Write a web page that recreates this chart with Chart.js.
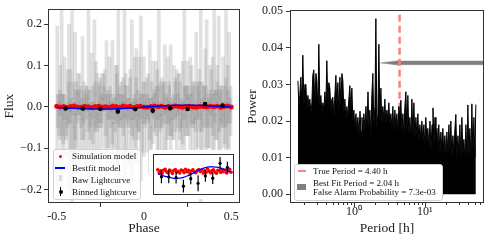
<!DOCTYPE html>
<html>
<head>
<meta charset="utf-8">
<script src="https://cdn.jsdelivr.net/npm/chart.js@4.4.1/dist/chart.umd.min.js"></script>
<style>
  body { margin: 0; background: #fff; }
  #wrap { position: relative; width: 488px; height: 242px; overflow: hidden; font-family: 'Liberation Serif', serif; color: #111; }
  canvas { position: absolute; }
  #lc { left: 0; top: 0; }
  #pg { left: 244px; top: 0; }
  #inset { left: 149px; top: 150px; }
  .legend { position: absolute; background: rgba(255,255,255,0.8); border: 1px solid #d0d0d0; border-radius: 3px; font-size: 9px; }
  .legend span { position: absolute; display: block; }
  .legend .t { white-space: nowrap; line-height: 12px; }
</style>
</head>
<body>
<div id="wrap">
  <canvas id="lc" width="244" height="242"></canvas>
  <canvas id="pg" width="244" height="242"></canvas>
  <canvas id="inset" width="89" height="49"></canvas>

  <div class="legend" style="left:53px;top:149px;width:86px;height:49px;">
    <span style="left:5px;top:4.5px;width:3px;height:3px;border-radius:50%;background:#f00;"></span>
    <span class="t" style="left:18px;top:0px;">Simulation model</span>
    <span style="left:1px;top:17px;width:10px;height:1.5px;background:#00f;"></span>
    <span class="t" style="left:18px;top:11.7px;">Bestfit model</span>
    <span style="left:5px;top:25px;width:3px;height:6px;background:#ddd;"></span>
    <span class="t" style="left:18px;top:23.7px;">Raw Lightcurve</span>
    <span style="left:6px;top:37px;width:1px;height:9px;background:#000;"></span>
    <span style="left:4.5px;top:39.5px;width:4px;height:4px;border-radius:50%;background:#000;"></span>
    <span class="t" style="left:18px;top:35.7px;">Binned lightcurve</span>
  </div>

  <div class="legend" style="left:294px;top:164px;width:147px;height:35px;background:#fff;">
    <span style="left:3px;top:4.8px;width:8px;height:2.5px;background:#ff8080;"></span>
    <span class="t" style="left:18px;top:0px;">True Period = 4.40 h</span>
    <span style="left:2px;top:19px;width:9px;height:6px;background:#808080;"></span>
    <span class="t" style="left:18px;top:12px;">Best Fit Period = 2.04 h</span>
    <span class="t" style="left:18px;top:20.7px;">False Alarm Probability = 7.3e-03</span>
  </div>
</div>

<script>
// ---- phase-folded lightcurve ----
// raw points: [phase, flux, error]
const rawLightcurve = [
  [-0.497, 0.005, 0.19], [-0.489, -0.02, 0.05], [-0.480, 0.01, 0.09], [-0.472, 0.03, 0.23],
  [-0.463, -0.03, 0.06], [-0.455, 0.00, 0.12], [-0.447, -0.04, 0.04], [-0.438, 0.02, 0.07],
  [-0.430, 0.00, 0.20], [-0.421, -0.01, 0.10], [-0.412, 0.02, 0.25], [-0.404, -0.05, 0.06],
  [-0.395, 0.01, 0.17], [-0.387, -0.02, 0.08], [-0.378, 0.03, 0.05], [-0.370, -0.03, 0.11],
  [-0.361, 0.00, 0.05], [-0.352, 0.02, 0.15], [-0.344, -0.01, 0.07], [-0.335, -0.06, 0.09],
  [-0.327, 0.01, 0.04], [-0.318, 0.02, 0.24], [-0.310, -0.02, 0.06], [-0.301, 0.00, 0.13],
  [-0.292, -0.04, 0.05], [-0.284, 0.01, 0.20], [-0.275, 0.03, 0.08], [-0.267, -0.02, 0.10],
  [-0.258, 0.00, 0.05], [-0.250, -0.05, 0.12], [-0.241, 0.02, 0.06], [-0.232, -0.01, 0.09],
  [-0.224, 0.04, 0.05], [-0.215, 0.00, 0.16], [-0.207, -0.03, 0.07], [-0.198, 0.01, 0.11],
  [-0.190, -0.01, 0.04], [-0.181, 0.01, 0.15], [-0.172, -0.04, 0.06], [-0.164, 0.02, 0.08],
  [-0.155, -0.02, 0.12], [-0.147, 0.03, 0.24], [-0.138, 0.00, 0.05], [-0.130, -0.03, 0.09],
  [-0.121, 0.01, 0.06], [-0.112, 0.05, 0.22], [-0.104, -0.02, 0.10], [-0.095, 0.00, 0.05],
  [-0.087, -0.06, 0.08], [-0.078, 0.02, 0.07], [-0.070, 0.01, 0.20], [-0.061, -0.03, 0.05],
  [-0.052, 0.01, 0.11], [-0.044, 0.00, 0.14], [-0.035, -0.02, 0.06], [-0.027, 0.03, 0.09],
  [-0.018, 0.02, 0.20], [-0.010, -0.04, 0.07], [-0.001, 0.00, 0.12], [0.008, 0.01, 0.05],
  [0.016, -0.02, 0.09], [0.025, 0.02, 0.06], [0.033, 0.00, 0.16], [0.042, -0.05, 0.07],
  [0.051, 0.01, 0.10], [0.059, -0.01, 0.05], [0.068, 0.03, 0.08], [0.076, -0.03, 0.12],
  [0.085, 0.04, 0.21], [0.093, 0.00, 0.06], [0.102, -0.02, 0.09], [0.111, 0.01, 0.05],
  [0.119, 0.00, 0.15], [0.128, -0.04, 0.07], [0.136, 0.02, 0.10], [0.145, -0.01, 0.06],
  [0.153, 0.02, 0.13], [0.162, -0.03, 0.05], [0.171, 0.01, 0.09], [0.179, 0.00, 0.06],
  [0.188, -0.02, 0.11], [0.196, 0.03, 0.05], [0.205, 0.00, 0.08], [0.213, -0.05, 0.07],
  [0.222, 0.01, 0.10], [0.231, 0.04, 0.22], [0.239, -0.01, 0.06], [0.248, 0.02, 0.09],
  [0.256, -0.02, 0.05], [0.265, 0.00, 0.12], [0.273, 0.03, 0.07], [0.282, -0.04, 0.10],
  [0.291, 0.01, 0.05], [0.299, 0.00, 0.18], [0.308, -0.02, 0.08], [0.316, 0.03, 0.06],
  [0.325, 0.01, 0.24], [0.333, -0.03, 0.09], [0.342, 0.00, 0.05], [0.351, 0.02, 0.12],
  [0.359, 0.01, 0.20], [0.368, -0.04, 0.06], [0.376, 0.00, 0.10], [0.385, 0.02, 0.07],
  [0.393, -0.01, 0.13], [0.402, 0.03, 0.23], [0.411, -0.02, 0.06], [0.419, 0.01, 0.09],
  [0.428, 0.02, 0.20], [0.436, -0.03, 0.08], [0.445, 0.00, 0.05], [0.453, 0.01, 0.11],
  [0.462, -0.02, 0.07], [0.470, 0.03, 0.22], [0.479, 0.00, 0.10], [0.488, 0.02, 0.16],
  [0.496, -0.01, 0.06],
  // low-error points that build up the dark core around zero
  [-0.494, -0.01, 0.04], [-0.481, 0.01, 0.03], [-0.469, -0.02, 0.05], [-0.456, 0.00, 0.03],
  [-0.444, -0.03, 0.04], [-0.431, 0.01, 0.05], [-0.419, -0.01, 0.03], [-0.406, 0.02, 0.04],
  [-0.394, -0.02, 0.06], [-0.381, 0.00, 0.04], [-0.369, 0.01, 0.03], [-0.356, -0.03, 0.05],
  [-0.344, 0.00, 0.04], [-0.331, 0.02, 0.03], [-0.319, -0.01, 0.05], [-0.306, -0.02, 0.03],
  [-0.294, 0.01, 0.04], [-0.281, 0.00, 0.06], [-0.269, -0.03, 0.03], [-0.256, 0.01, 0.05],
  [-0.244, -0.01, 0.04], [-0.231, 0.02, 0.03], [-0.219, -0.02, 0.05], [-0.206, 0.00, 0.03],
  [-0.194, 0.01, 0.04], [-0.181, -0.04, 0.05], [-0.169, 0.00, 0.03], [-0.156, 0.02, 0.06],
  [-0.144, -0.01, 0.04], [-0.131, 0.00, 0.03], [-0.119, -0.02, 0.05], [-0.106, 0.01, 0.04],
  [-0.094, -0.01, 0.03], [-0.081, 0.02, 0.05], [-0.069, -0.03, 0.04], [-0.056, 0.00, 0.03],
  [-0.044, 0.01, 0.06], [-0.031, -0.02, 0.04], [-0.019, 0.00, 0.03], [-0.006, 0.01, 0.05],
  [0.006, -0.01, 0.04], [0.019, 0.00, 0.03], [0.031, -0.03, 0.05], [0.044, 0.02, 0.04],
  [0.056, 0.00, 0.03], [0.069, -0.01, 0.06], [0.081, 0.01, 0.04], [0.094, -0.02, 0.03],
  [0.106, 0.00, 0.05], [0.119, 0.02, 0.04], [0.131, -0.01, 0.03], [0.144, 0.01, 0.05],
  [0.156, -0.03, 0.04], [0.169, 0.00, 0.03], [0.181, 0.02, 0.05], [0.194, -0.01, 0.04],
  [0.206, 0.00, 0.06], [0.219, -0.02, 0.03], [0.231, 0.01, 0.04], [0.244, 0.00, 0.05],
  [0.256, 0.02, 0.03], [0.269, -0.01, 0.04], [0.281, 0.00, 0.05], [0.294, -0.03, 0.03],
  [0.306, 0.01, 0.04], [0.319, 0.00, 0.06], [0.331, -0.02, 0.04], [0.344, 0.02, 0.03],
  [0.356, 0.00, 0.05], [0.369, -0.01, 0.04], [0.381, 0.01, 0.03], [0.394, -0.02, 0.05],
  [0.406, 0.00, 0.04], [0.419, 0.03, 0.03], [0.431, -0.01, 0.05], [0.444, 0.00, 0.04],
  [0.456, -0.02, 0.03], [0.469, 0.01, 0.06], [0.481, 0.00, 0.04], [0.494, -0.01, 0.03]
];

const binnedPhase = [-0.45, -0.35, -0.25, -0.15, -0.05, 0.05, 0.15, 0.25, 0.35, 0.45];
const binnedFlux = [-0.0043, -0.0043, -0.0049, -0.0117, -0.0058, -0.0094, -0.0036, -0.0054, 0.0063, 0.0031];
const binnedErr = [0.0052, 0.0051, 0.0048, 0.0051, 0.0045, 0.0063, 0.0047, 0.0047, 0.0051, 0.0045];

const simPhase = [-0.50, -0.48, -0.46, -0.44, -0.42, -0.40, -0.38, -0.36, -0.34, -0.32,
  -0.30, -0.28, -0.26, -0.24, -0.22, -0.20, -0.18, -0.16, -0.14, -0.12,
  -0.10, -0.08, -0.06, -0.04, -0.02, 0.00, 0.02, 0.04, 0.06, 0.08,
  0.10, 0.12, 0.14, 0.16, 0.18, 0.20, 0.22, 0.24, 0.26, 0.28,
  0.30, 0.32, 0.34, 0.36, 0.38, 0.40, 0.42, 0.44, 0.46, 0.48, 0.50];
const simFlux = [0.0012, -0.0009, 0.0004, -0.0015, 0.0008, 0.0016, -0.0004, -0.0012, 0.0010, 0.0002,
  -0.0017, 0.0006, 0.0014, -0.0007, 0.0001, -0.0013, 0.0011, 0.0005, -0.0010, 0.0017,
  -0.0003, 0.0009, -0.0016, 0.0003, 0.0013, -0.0006, -0.0011, 0.0007, 0.0015, -0.0002,
  0.0010, -0.0014, 0.0004, -0.0008, 0.0018, 0.0000, -0.0012, 0.0006, 0.0012, -0.0005,
  -0.0015, 0.0008, 0.0003, -0.0009, 0.0014, -0.0003, 0.0011, -0.0013, 0.0005, 0.0016, -0.0007];

const fitPhase = [-0.50, -0.45, -0.40, -0.35, -0.30, -0.25, -0.20, -0.15, -0.10, -0.05, 0.00,
  0.05, 0.10, 0.15, 0.20, 0.25, 0.30, 0.35, 0.40, 0.45, 0.50];
const fitFlux = [-0.0020, -0.0030, -0.0040, -0.0048, -0.0053, -0.0055, -0.0053, -0.0047, -0.0037, -0.0024, -0.0008,
  0.0007, 0.0020, 0.0030, 0.0035, 0.0036, 0.0034, 0.0028, 0.0018, 0.0006, -0.0006];

const phaseTicks = [-0.5, 0, 0.5];
const fluxTicks = [-0.2, -0.1, 0, 0.1, 0.2];

// ---- periodogram ----
const periods = [
  0.163, 0.168, 0.173, 0.179, 0.185, 0.191, 0.198, 0.204, 0.211, 0.218,
  0.225, 0.232, 0.240, 0.248, 0.256, 0.264, 0.273, 0.282, 0.292, 0.301,
  0.311, 0.321, 0.332, 0.343, 0.354, 0.366, 0.378, 0.390, 0.403, 0.416,
  0.430, 0.444, 0.459, 0.474, 0.490, 0.506, 0.523, 0.540, 0.558, 0.576,
  0.595, 0.615, 0.635, 0.656, 0.678, 0.700, 0.723, 0.747, 0.771, 0.797,
  0.823, 0.850, 0.878, 0.907, 0.937, 0.968, 1.00, 1.03, 1.07, 1.10,
  1.14, 1.18, 1.22, 1.26, 1.30, 1.34, 1.38, 1.43, 1.48, 1.52,
  1.58, 1.63, 1.68, 1.74, 1.79, 1.85, 1.91, 1.98, 2.04, 2.11,
  2.18, 2.25, 2.32, 2.40, 2.48, 2.56, 2.65, 2.73, 2.82, 2.92,
  3.01, 3.11, 3.21, 3.32, 3.43, 3.54, 3.66, 3.78, 3.90, 4.03,
  4.17, 4.30, 4.44, 4.59, 4.74, 4.90, 5.06, 5.23, 5.40, 5.58,
  5.76, 5.95, 6.15, 6.35, 6.56, 6.78, 7.00, 7.23, 7.47, 7.72,
  7.97, 8.23, 8.50, 8.78, 9.07, 9.37, 9.68, 10.0, 10.3, 10.7,
  11.0, 11.4, 11.8, 12.2, 12.6, 13.0, 13.4, 13.9, 14.3, 14.8,
  15.2, 15.7, 16.3, 16.8, 17.3, 17.9, 18.5, 19.1, 19.8, 20.4,
  21.1, 21.8, 22.5, 23.2, 24.0, 24.8, 25.6, 26.5, 27.3, 28.2,
  29.2, 30.1, 31.1, 32.2, 33.2, 34.3, 35.4, 36.6, 37.8, 39.1,
  40.3, 41.7, 43.0, 44.5, 45.9, 47.4, 49.0, 50.6, 52.2
];
const power = [
  0.031, 0.024, 0.027, 0.032, 0.025, 0.038, 0.024, 0.030, 0.030, 0.023,
  0.027, 0.024, 0.026, 0.022, 0.025, 0.0325, 0.034, 0.024, 0.033, 0.031,
  0.023, 0.041, 0.024, 0.027, 0.022, 0.025, 0.023, 0.028, 0.024, 0.0365,
  0.025, 0.0305, 0.029, 0.023, 0.026, 0.0265, 0.021, 0.027, 0.0325, 0.024,
  0.0305, 0.022, 0.032, 0.024, 0.033, 0.031, 0.022, 0.026, 0.020, 0.024,
  0.021, 0.026, 0.0297, 0.022, 0.029, 0.020, 0.023, 0.018, 0.022, 0.017,
  0.021, 0.016, 0.0227, 0.017, 0.021, 0.016, 0.022, 0.018, 0.024, 0.017,
  0.028, 0.018, 0.023, 0.016, 0.027, 0.033, 0.019, 0.024, 0.048, 0.018,
  0.022, 0.041, 0.020, 0.029, 0.019, 0.024, 0.020, 0.026, 0.019, 0.023,
  0.020, 0.025, 0.019, 0.022, 0.018, 0.024, 0.017, 0.023, 0.018, 0.022,
  0.017, 0.024, 0.021, 0.0257, 0.017, 0.022, 0.016, 0.024, 0.028, 0.017,
  0.027, 0.016, 0.021, 0.015, 0.026, 0.016, 0.025, 0.015, 0.021, 0.016,
  0.022, 0.014, 0.019, 0.015, 0.020, 0.014, 0.019, 0.013, 0.021, 0.014,
  0.018, 0.013, 0.020, 0.012, 0.019, 0.0236, 0.013, 0.021, 0.012, 0.018,
  0.012, 0.019, 0.011, 0.017, 0.012, 0.018, 0.011, 0.016, 0.011, 0.017,
  0.011, 0.019, 0.011, 0.020, 0.010, 0.016, 0.011, 0.018, 0.0218, 0.010,
  0.016, 0.011, 0.019, 0.010, 0.021, 0.011, 0.015, 0.010, 0.019, 0.010,
  0.0244, 0.010, 0.018, 0.010, 0.0247, 0.011, 0.021, 0.010, 0.0245
];
const periodTicks = [0.2, 0.3, 0.4, 0.5, 0.6, 0.7, 0.8, 0.9, 1, 2, 3, 4, 5, 6, 7, 8, 9, 10, 20, 30, 40, 50, 60];
const periodLabels = { 1: '10\u2070', 10: '10\u00b9' };
const powerTicks = [0, 0.01, 0.02, 0.03, 0.04, 0.05];
const truePeriod = 4.40;
// arrow: tip, head end and shaft
const arrowTip = [2.40, 0.0359];
const arrowHeadEnd = 4.5;
const arrowHeadHalf = 0.00068;
const arrowShaftHalf = 0.0005;

const tickFont = { family: 'Liberation Serif', size: 12 };
const titleFont = { family: 'Liberation Serif', size: 13.5 };

// matplotlib-like box around the plot area
const framePlugin = {
    id: 'frame',
    beforeDraw(chart, args, opts) {
        if (opts.bg) {
            chart.ctx.save();
            chart.ctx.fillStyle = opts.bg;
            chart.ctx.fillRect(0, 0, chart.width, chart.height);
            chart.ctx.restore();
        }
    },
    afterDraw(chart, args, opts) {
        const ctx = chart.ctx, a = chart.chartArea;
        ctx.save();
        ctx.strokeStyle = opts.color || '#333';
        ctx.lineWidth = 1;
        ctx.strokeRect(Math.round(a.left) + 0.5, Math.round(a.top) + 0.5,
            Math.round(a.right - a.left) - 1, Math.round(a.bottom - a.top) - 1);
        ctx.restore();
    }
};

// log axis: long major ticks, short minor ticks
const logTicksPlugin = {
    id: 'logTicks',
    afterDraw(chart) {
        const s = chart.scales.x, ctx = chart.ctx, y0 = Math.round(chart.chartArea.bottom);
        ctx.save();
        ctx.strokeStyle = '#333';
        ctx.lineWidth = 1;
        s.ticks.forEach(t => {
            const x = Math.round(s.getPixelForValue(t.value)) + 0.5;
            const len = periodLabels[t.value] ? 4 : 2;
            ctx.beginPath();
            ctx.moveTo(x, y0);
            ctx.lineTo(x, y0 + len);
            ctx.stroke();
        });
        ctx.restore();
    }
};

function errorSegments(xs, ys, es) {
    const pts = [];
    xs.forEach((x, i) => {
        pts.push({ x: x, y: ys[i] - es[i] }, { x: x, y: ys[i] + es[i] }, { x: x, y: null });
    });
    return pts;
}

const simPoints = simPhase.map((p, i) => ({ x: p, y: simFlux[i] }));
const fitPoints = fitPhase.map((p, i) => ({ x: p, y: fitFlux[i] }));
const binPoints = binnedPhase.map((p, i) => ({ x: p, y: binnedFlux[i] }));

function axisStyle(extra) {
    return Object.assign({
        border: { display: false },
        grid: { drawOnChartArea: false, drawTicks: true, tickLength: 4, tickColor: '#333' }
    }, extra);
}

// left: folded lightcurve
new Chart(document.getElementById('lc'), {
    type: 'scatter',
    data: {
        datasets: [
            { type: 'bar', data: rawLightcurve.map(r => ({ x: r[0], y: [r[1] - r[2], r[1] + r[2]] })),
              backgroundColor: 'rgba(128,128,128,0.24)', barThickness: 3, order: 6 },
            { data: rawLightcurve.map(r => ({ x: r[0], y: r[1] })),
              pointRadius: 0.8, pointBackgroundColor: 'rgba(110,110,110,0.3)', pointBorderWidth: 0, order: 5 },
            { data: simPoints, pointRadius: 2.5, pointBackgroundColor: '#ff0000', pointBorderWidth: 0, order: 4 },
            { type: 'line', data: fitPoints, borderColor: '#0000ff', borderWidth: 1.5, pointRadius: 0,
              tension: 0.4, order: 3 },
            { type: 'line', data: errorSegments(binnedPhase, binnedFlux, binnedErr), borderColor: '#000',
              borderWidth: 1.2, pointRadius: 0, spanGaps: false, order: 2 },
            { data: binPoints, pointRadius: 2.3, pointBackgroundColor: '#000', pointBorderWidth: 0, order: 1 }
        ]
    },
    options: {
        responsive: false,
        animation: false,
        layout: { padding: { left: 0, right: 1, top: 6, bottom: 0 } },
        plugins: { legend: { display: false }, tooltip: { enabled: false }, frame: { color: '#333' } },
        scales: {
            x: axisStyle({
                type: 'linear', min: -0.55, max: 0.55, offset: false,
                afterBuildTicks: s => { s.ticks = phaseTicks.map(v => ({ value: v })); },
                afterFit: s => { s.height = 39; },
                ticks: { font: tickFont, color: '#222', padding: 3, maxRotation: 0,
                         callback: v => String(v) },
                title: { display: true, text: 'Phase', font: titleFont, color: '#222', padding: { top: 0, bottom: 5 } }
            }),
            y: axisStyle({
                type: 'linear', min: -0.233, max: 0.236,
                afterBuildTicks: s => { s.ticks = fluxTicks.map(v => ({ value: v })); },
                afterFit: s => { s.width = 48; },
                ticks: { font: tickFont, color: '#222', padding: 2,
                         callback: v => (v < 0 ? '\u2212' : '') + Math.abs(v).toFixed(1) },
                title: { display: true, text: 'Flux', font: titleFont, color: '#222', padding: { top: 1, bottom: 0 } }
            })
        }
    },
    plugins: [framePlugin]
});

// inset: zoom on the binned points
new Chart(document.getElementById('inset'), {
    type: 'scatter',
    data: {
        datasets: [
            { data: simPoints, pointRadius: 1.8, pointBackgroundColor: '#ff0000', pointBorderWidth: 0, order: 4 },
            { type: 'line', data: fitPoints, borderColor: '#0000ff', borderWidth: 1.3, pointRadius: 0,
              tension: 0.4, order: 3 },
            { type: 'line', data: errorSegments(binnedPhase, binnedFlux, binnedErr), borderColor: '#000',
              borderWidth: 1.2, pointRadius: 0, spanGaps: false, order: 2 },
            { data: binPoints, pointRadius: 1.6, pointBackgroundColor: '#000', pointBorderWidth: 0, order: 1 }
        ]
    },
    options: {
        responsive: false,
        animation: false,
        layout: { padding: 0 },
        plugins: { legend: { display: false }, tooltip: { enabled: false }, frame: { color: '#333', bg: '#fff' } },
        scales: {
            x: { type: 'linear', min: -0.565, max: 0.54, display: false },
            y: { type: 'linear', min: -0.0187, max: 0.0137, display: false }
        }
    },
    plugins: [framePlugin]
});

// right: periodogram
new Chart(document.getElementById('pg'), {
    type: 'line',
    data: {
        datasets: [
            { data: periods.map((p, i) => ({ x: p, y: power[i] })), borderColor: '#000', borderWidth: 1,
              backgroundColor: '#000', fill: 'origin', pointRadius: 0, tension: 0, order: 1 },
            { data: [{ x: truePeriod, y: -0.01 }, { x: truePeriod, y: 0.06 }], borderColor: '#ff8080',
              borderWidth: 2.5, borderDash: [7, 4], pointRadius: 0, fill: false, order: 2 },
            { data: [
                  { x: arrowTip[0], y: arrowTip[1] },
                  { x: arrowHeadEnd, y: arrowTip[1] + arrowHeadHalf },
                  { x: arrowHeadEnd, y: arrowTip[1] + arrowShaftHalf },
                  { x: 90, y: arrowTip[1] + arrowShaftHalf },
                  { x: 90, y: arrowTip[1] - arrowShaftHalf },
                  { x: arrowHeadEnd, y: arrowTip[1] - arrowShaftHalf },
                  { x: arrowHeadEnd, y: arrowTip[1] - arrowHeadHalf },
                  { x: arrowTip[0], y: arrowTip[1] }
              ],
              borderColor: '#808080', borderWidth: 0.5, backgroundColor: '#808080', fill: 'shape',
              pointRadius: 0, tension: 0, order: 3 }
        ]
    },
    options: {
        responsive: false,
        animation: false,
        layout: { padding: { left: 0, right: 4, top: 6, bottom: 0 } },
        plugins: { legend: { display: false }, tooltip: { enabled: false }, frame: { color: '#333' } },
        scales: {
            x: {
                type: 'logarithmic', min: 0.126, max: 68,
                border: { display: false },
                grid: { display: false, drawTicks: false },
                afterBuildTicks: s => { s.ticks = periodTicks.map(v => ({ value: v })); },
                afterFit: s => { s.height = 39; },
                ticks: { font: tickFont, color: '#222', padding: 2, maxRotation: 0, autoSkip: false,
                         callback: v => periodLabels[v] || '' },
                title: { display: true, text: 'Period [h]', font: titleFont, color: '#222', padding: { top: 0, bottom: 5 } }
            },
            y: axisStyle({
                type: 'linear', min: -0.0024, max: 0.0503,
                afterBuildTicks: s => { s.ticks = powerTicks.map(v => ({ value: v })); },
                afterFit: s => { s.width = 46; },
                ticks: { font: tickFont, color: '#222', padding: 3, callback: v => v.toFixed(2) },
                title: { display: true, text: 'Power', font: titleFont, color: '#222', padding: { top: 0, bottom: 0 } }
            })
        }
    },
    plugins: [framePlugin, logTicksPlugin]
});
</script>
</body>
</html>
